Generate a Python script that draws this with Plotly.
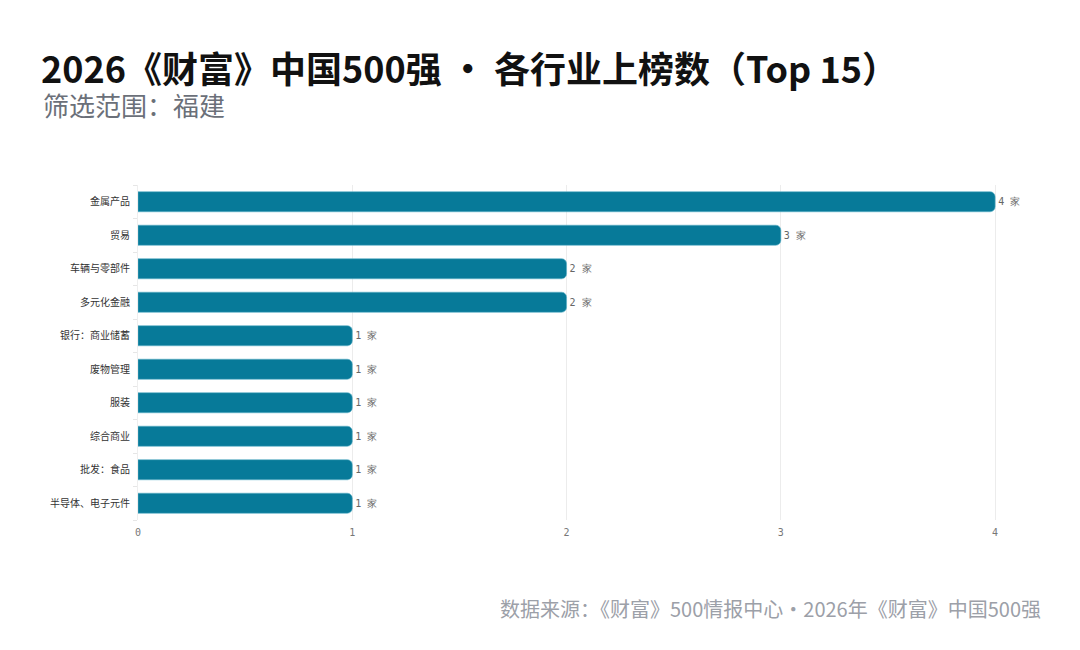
"""
Fortune China 500 (2026) - industry counts, Fujian filter
"""
import plotly.graph_objects as go

# data (top to bottom as shown)
industries = ["金属产品", "贸易", "车辆与零部件", "多元化金融", "银行：商业储蓄",
              "废物管理", "服装", "综合商业", "批发：食品", "半导体、电子元件"]
counts = [4, 3, 2, 2, 1, 1, 1, 1, 1, 1]
x_ticks = [0, 1, 2, 3, 4]

BAR_COLOR = "#077a99"
CJK = "Noto Sans CJK SC, Noto Sans, sans-serif"
MONO = "DejaVu Sans Mono, Liberation Mono, monospace"

# the page puts the figure 8px in from the top-left corner
OFF = 8
LEFT, TOP, BOTTOM = 138 - OFF, 185 - OFF, 520 - OFF
PLOT_W = 900
PLOT_H = BOTTOM - TOP

fig = go.Figure()

fig.add_trace(
    go.Bar(
        x=counts,
        y=industries,
        orientation="h",
        marker=dict(color=BAR_COLOR, line=dict(color="#5fb3c9", width=0.6)),
        text=[f"{c} 家" for c in counts],
        textposition="outside",
        textfont=dict(family=MONO, size=10, color="#666666"),
        cliponaxis=False,
        hoverinfo="skip",
    )
)

fig.update_layout(
    width=1080,
    height=650,
    paper_bgcolor="white",
    plot_bgcolor="white",
    margin=dict(l=LEFT, r=1080 - LEFT - PLOT_W, t=TOP, b=650 - BOTTOM),
    bargap=0.4,
    barcornerradius=5,
    showlegend=False,
    font=dict(family=CJK, color="#333333"),
    title=dict(
        text="<b>2026《财富》中国500强 · 各行业上榜数（Top 15）</b>",
        font=dict(family=CJK, size=36, color="#111111"),
        x=(42 - OFF - 1) / 1080, xref="container", xanchor="left",
        y=1 - (70 - OFF) / 650, yref="container", yanchor="middle",
    ),
)

fig.update_xaxes(
    range=[0, 4.2],
    tickvals=x_ticks,
    tickfont=dict(family=MONO, size=10, color="#777777"),
    showgrid=True,
    gridcolor="#ececec",
    gridwidth=1,
    zeroline=False,
    showline=False,
    ticks="",
    ticklabelstandoff=5,
    automargin=False,
)
fig.update_yaxes(
    categoryorder="array",
    categoryarray=industries[::-1],
    tickfont=dict(family=CJK, size=10, color="#333333"),
    showgrid=False,
    showline=True,
    linecolor="#eeeeee",
    ticks="outside",
    tickson="boundaries",
    ticklen=4,
    tickcolor="#e6e6e6",
    ticklabelstandoff=5,
    automargin=False,
)

fig.add_annotation(
    text="筛选范围：福建",
    xref="paper", yref="paper",
    x=(42 - OFF - 138 + OFF) / PLOT_W - 1 / PLOT_W,
    y=(BOTTOM - (104 - OFF)) / PLOT_H,
    xanchor="left", yanchor="middle", showarrow=False,
    font=dict(family=CJK, size=26, color="#6b7079"),
)
fig.add_annotation(
    text="数据来源：《财富》500情报中心・2026年《财富》中国500强",
    xref="paper", yref="paper",
    x=(1043 - OFF - LEFT) / PLOT_W,
    y=(BOTTOM - (608 - OFF)) / PLOT_H,
    xanchor="right", yanchor="middle", showarrow=False,
    font=dict(family=CJK, size=20, color="#9ca0a8"),
)

fig.write_html("out.html")
